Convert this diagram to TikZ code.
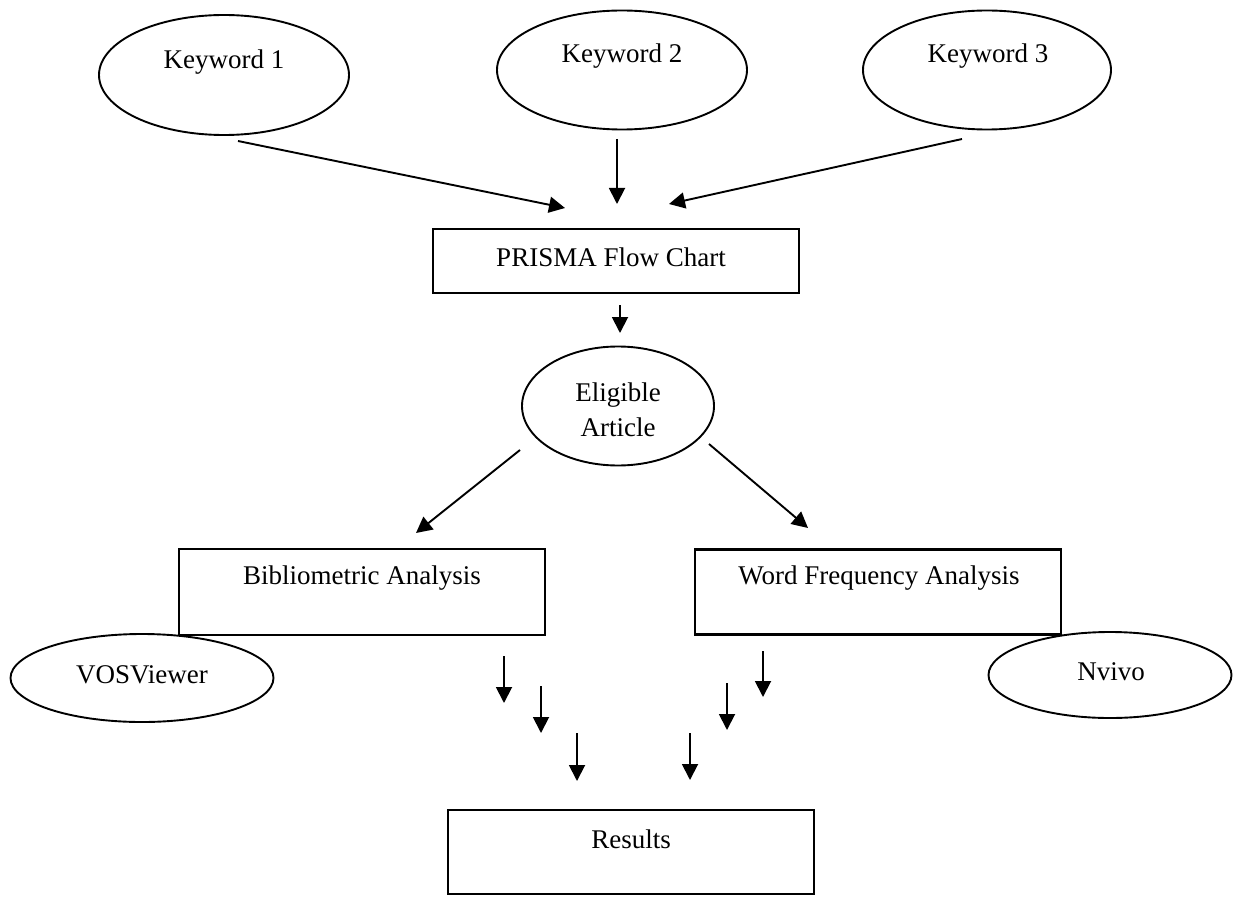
\documentclass[tikz,border=0pt]{standalone}
\usepackage{fontspec}
\setmainfont{Liberation Serif}
\usetikzlibrary{shapes.geometric,arrows.meta}
\tikzset{
  txt/.style={font=\fontsize{27}{35}\selectfont, inner sep=0pt, align=center},
  oval/.style={draw, ellipse, line width=1.9pt, inner sep=0pt},
  rbox/.style={draw, rectangle, line width=2.2pt, inner sep=0pt},
  arr/.style={line width=1.9pt, -{Triangle[length=16pt,width=16pt]}},
}
\begin{document}
\begin{tikzpicture}[x=1pt,y=-1pt]
\useasboundingbox (0,0) rectangle (1233,896);
% ellipses
\node[oval, minimum width=250pt, minimum height=120pt] (k1) at (224,75) {};
\node[oval, minimum width=250pt, minimum height=119pt] (k2) at (622,70) {};
\node[oval, minimum width=248pt, minimum height=119pt] (k3) at (987,70) {};
\node[oval, minimum width=192pt, minimum height=119pt] (elig) at (618,406) {};
\node[oval, minimum width=263pt, minimum height=88pt] (vos) at (142,678) {};
\node[oval, minimum width=243pt, minimum height=86pt] (nvivo) at (1110,675) {};
% boxes
\node[rbox, minimum width=366pt, minimum height=64pt] (prisma) at (616,261) {};
\node[rbox, minimum width=366pt, minimum height=86pt] (bib) at (362,592) {};
\node[rbox, minimum width=366pt, minimum height=85pt] (wfa) at (878,592) {};
\node[rbox, minimum width=366pt, minimum height=84pt] (res) at (631,852) {};
% texts
\node[txt] (tk1) at (224,62) {Keyword 1};
\node[txt] (tk2) at (622,56) {Keyword 2};
\node[txt] (tk3) at (988,56) {Keyword 3};
\node[txt] (tprisma) at (611,257) {PRISMA Flow Chart};
\node[txt] (telig) at (618,410) {Eligible\\Article};
\node[txt] (tbib) at (362,578) {Bibliometric Analysis};
\node[txt] (twfa) at (879,578) {Word Frequency Analysis};
\node[txt] (tvos) at (142,675) {VOSViewer};
\node[txt] (tnv) at (1111,672) {Nvivo};
\node[txt] (tres) at (631,839) {Results};
% arrow end points
\coordinate (a1s) at (238,141); \coordinate (a1e) at (565,208);
\coordinate (a2s) at (617,139); \coordinate (a2e) at (617,204);
\coordinate (a3s) at (962,139); \coordinate (a3e) at (669,204);
\coordinate (a4s) at (620,305); \coordinate (a4e) at (620,333);
\coordinate (a5s) at (520,450); \coordinate (a5e) at (416,533);
\coordinate (a6s) at (709,444); \coordinate (a6e) at (808,528);
\coordinate (b1s) at (504,656); \coordinate (b1e) at (504,703);
\coordinate (b2s) at (541,686); \coordinate (b2e) at (541,733);
\coordinate (b3s) at (577,733); \coordinate (b3e) at (577,781);
\coordinate (b4s) at (690,733); \coordinate (b4e) at (690,780);
\coordinate (b5s) at (727,683); \coordinate (b5e) at (727,730);
\coordinate (b6s) at (763,651); \coordinate (b6e) at (763,697);
\draw[arr] (a1s) -- (a1e);
\draw[arr] (a2s) -- (a2e);
\draw[arr] (a3s) -- (a3e);
\draw[arr] (a4s) -- (a4e);
\draw[arr] (a5s) -- (a5e);
\draw[arr] (a6s) -- (a6e);
\draw[arr] (b1s) -- (b1e);
\draw[arr] (b2s) -- (b2e);
\draw[arr] (b3s) -- (b3e);
\draw[arr] (b4s) -- (b4e);
\draw[arr] (b5s) -- (b5e);
\draw[arr] (b6s) -- (b6e);
\end{tikzpicture}
\end{document}
